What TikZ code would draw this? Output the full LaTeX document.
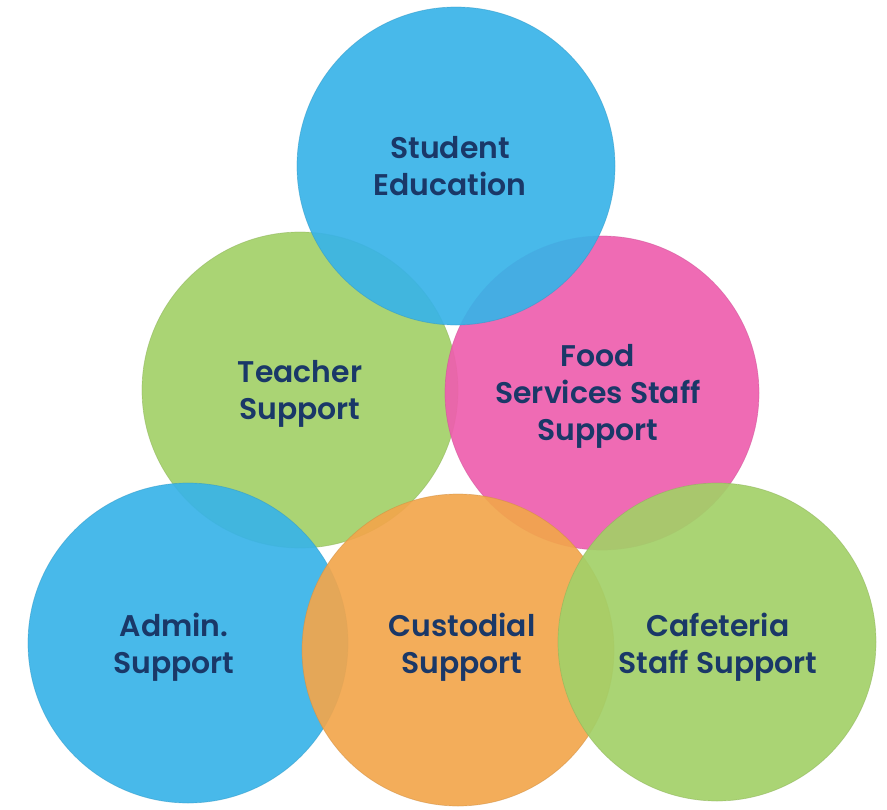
\documentclass[tikz,border=0pt]{standalone}
\usepackage{fontspec}
\setmainfont{Poppins}[UprightFont=* Medium, BoldFont=* SemiBold]
\definecolor{skyblue}{HTML}{38B3E8}
\definecolor{leafgreen}{HTML}{A3D068}
\definecolor{hotpink}{HTML}{EE5EAE}
\definecolor{sunorange}{HTML}{F2A64C}
\definecolor{navytext}{HTML}{1A3868}
\tikzset{
  bubble/.style={circle, fill=#1, draw=#1!85!black, line width=0.6pt,
    fill opacity=0.92, draw opacity=0.5},
  tag/.style={align=center, text=navytext,
    font=\bfseries\fontsize{25.5}{31.5}\selectfont, text opacity=1}
}
\begin{document}
\begin{tikzpicture}[x=0.03cm,y=-0.03cm]
    \useasboundingbox (0,0) rectangle (887,810);
    % upper row
    \filldraw[bubble=leafgreen] (300,390) circle (158);
    \filldraw[bubble=hotpink] (602,393) circle (157);
    \filldraw[bubble=skyblue] (456,166) circle (159);
    % lower row
    \filldraw[bubble=skyblue] (188,643) circle (160);
    \filldraw[bubble=sunorange] (458,650) circle (156);
    \filldraw[bubble=leafgreen] (717,642) circle (159);

    \node[tag] (SE) at (450,166) {Student\\Education};
    \node[tag] (TS) at (300,394) {Teacher\\Support};
    \node[tag] (FS) at (598,396) {Food\\Services Staff\\Support};
    \node[tag] (AS) at (174,647) {Admin.\\Support};
    \node[tag] (CS) at (462,647) {Custodial\\Support};
    \node[tag] (CF) at (718,647) {Cafeteria\\Staff Support};
\end{tikzpicture}
\end{document}
